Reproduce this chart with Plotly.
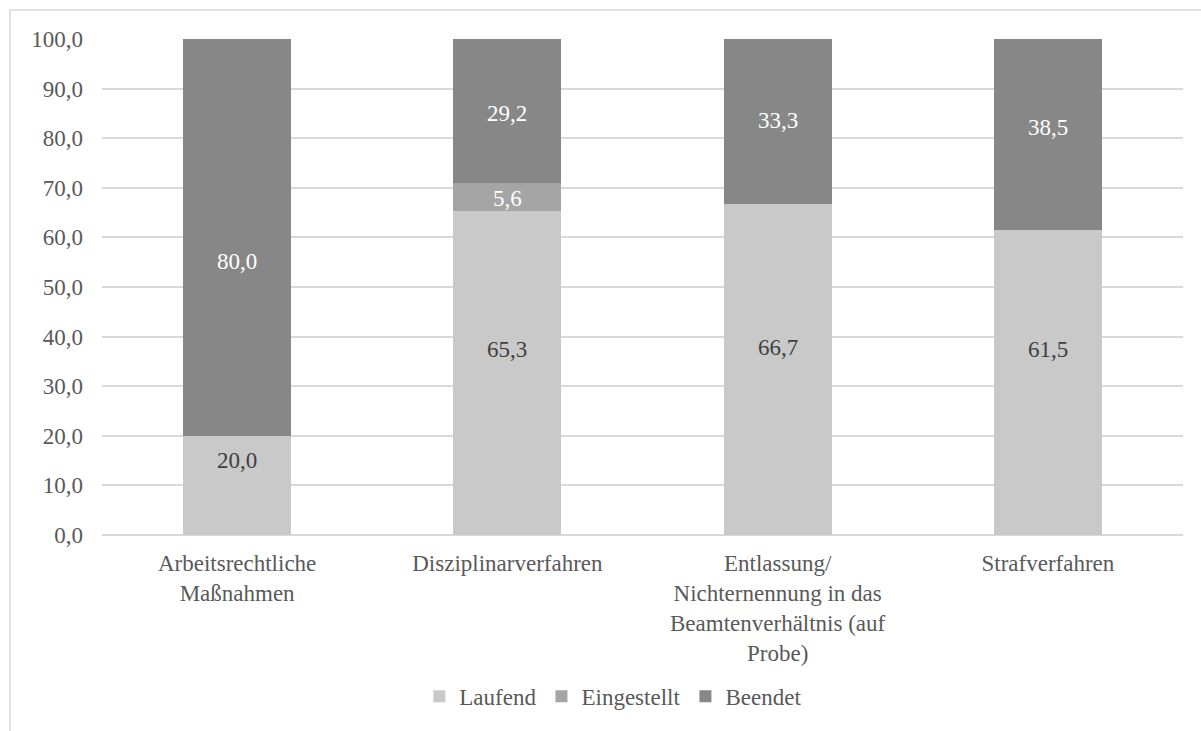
import plotly.graph_objects as go

categories = [
    "Arbeitsrechtliche<br>Maßnahmen",
    "Disziplinarverfahren",
    "Entlassung/<br>Nichternennung in das<br>Beamtenverhältnis (auf<br>Probe)",
    "Strafverfahren",
]
laufend = [20.0, 65.3, 66.7, 61.5]
eingestellt = [0.0, 5.6, 0.0, 0.0]
beendet = [80.0, 29.2, 33.3, 38.5]
y_ticks = [0, 10, 20, 30, 40, 50, 60, 70, 80, 90, 100]

FONT = "Liberation Serif"
FS = 23
W, H = 1201, 731
ML, MR, MT, MB = 102, 18, 39, 195.5
YMAX = 100


def fmt(v):
    return f"{v:.1f}".replace(".", ",")


# name, values, bar colour, label colour, label nudge (data units)
series = [
    ("Laufend", laufend, "#c9c9c9", "#404040", [5.0, 4.7, 4.5, 6.6]),
    ("Eingestellt", eingestellt, "#a5a5a5", "#ffffff", [0, -0.3, 0, 0]),
    ("Beendet", beendet, "#878787", "#ffffff", [-4.9, -0.4, 0.2, 1.5]),
]

fig = go.Figure()
base = [0.0] * len(categories)
for name, vals, color, tcolor, nudge in series:
    fig.add_trace(go.Bar(
        name=name,
        x=categories,
        y=vals,
        marker=dict(color=color, line=dict(width=0)),
        width=0.4,
        hoverinfo="name+y",
    ))
    for i, v in enumerate(vals):
        if v > 0:
            top = min(base[i] + v, YMAX)
            mid = (base[i] + top) / 2 + nudge[i]
            fig.add_annotation(
                x=categories[i], y=mid, text=fmt(v), showarrow=False,
                font=dict(family=FONT, size=FS, color=tcolor),
                xanchor="center", yanchor="middle",
            )
        base[i] += v

pw = W - ML - MR
ph = H - MT - MB
# outer chart frame (left and top edges visible)
fig.add_shape(
    type="rect", xref="paper", yref="paper",
    x0=(10 - ML) / pw, x1=(W + 20 - ML) / pw,
    y0=-(H + 20 - MT - ph) / ph, y1=1 + (MT - 10) / ph,
    line=dict(color="#d9d9d9", width=1.5), fillcolor="rgba(0,0,0,0)",
    layer="below",
)

fig.update_layout(
    width=W, height=H,
    margin=dict(l=ML, r=MR, t=MT, b=MB),
    barmode="stack",
    paper_bgcolor="white",
    plot_bgcolor="white",
    font=dict(family=FONT, size=FS, color="#595959"),
    showlegend=True,
    legend=dict(
        orientation="h",
        x=0.473, xanchor="center",
        y=-(697 - (H - MB)) / ph, yanchor="middle",
        font=dict(family=FONT, size=FS, color="#595959"),
        traceorder="normal",
        itemwidth=30,
    ),
    xaxis=dict(
        showgrid=False,
        showline=False,
        ticks="",
        ticklabelstandoff=12,
        tickfont=dict(family=FONT, size=FS, color="#595959"),
    ),
    yaxis=dict(
        range=[0, YMAX],
        tickvals=y_ticks,
        ticktext=[fmt(v) for v in y_ticks],
        showgrid=True,
        gridcolor="#d9d9d9",
        gridwidth=1.5,
        zeroline=True,
        zerolinecolor="#d9d9d9",
        zerolinewidth=1.5,
        showline=False,
        ticks="",
        ticklabelstandoff=18,
        tickfont=dict(family=FONT, size=FS, color="#595959"),
    ),
)

fig.write_html("out.html")
